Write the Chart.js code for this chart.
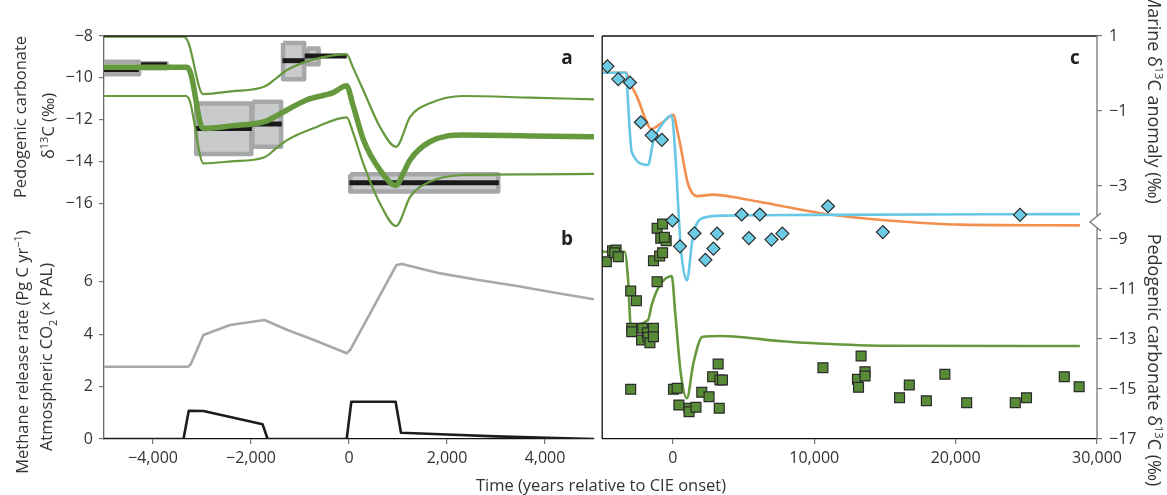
<!DOCTYPE html>
<html>
<head>
<meta charset="utf-8">
<script src="https://cdn.jsdelivr.net/npm/chart.js@4.4.1/dist/chart.umd.min.js"></script>
<style>
  body { margin: 0; background: #fff; }
  #wrap { position: relative; width: 1167px; height: 495px; overflow: hidden; background: #fff; font-family: "Open Sans", sans-serif; color: #333; }
  canvas { position: absolute; top: 0; }
  .t { position: absolute; white-space: nowrap; font-size: 16.5px; transform: translate(-50%, -50%); line-height: 1; }
  .up { transform: translate(-50%, -50%) rotate(-90deg); }
  .down { transform: translate(-50%, -50%) rotate(90deg); font-size: 18px; }
  .t sup, .t sub { font-size: 11px; }
  .lbl { position: absolute; font-weight: 700; font-size: 19px; color: #222; transform: translate(-50%, -50%); }
</style>
</head>
<body>
<div id="wrap">
  <canvas id="left" width="600" height="495" style="left:0"></canvas>
  <canvas id="right" width="573" height="495" style="left:594px"></canvas>

  <div class="t up" style="left:20px;top:117px">Pedogenic carbonate</div>
  <div class="t up" style="left:47px;top:126px">δ<sup>13</sup>C (‰)</div>
  <div class="t up" style="left:21px;top:352px">Methane release rate (Pg C yr<sup>−1</sup>)</div>
  <div class="t up" style="left:48px;top:357px">Atmospheric CO<sub>2</sub> (× PAL)</div>
  <div class="t down" style="left:1155px;top:98px">Marine δ<sup>13</sup>C anomaly (‰)</div>
  <div class="t down" style="left:1155px;top:360px">Pedogenic carbonate δ<sup>13</sup>C (‰)</div>
  <div class="t" style="left:601px;top:485px">Time (years relative to CIE onset)</div>

  <div class="lbl" style="left:567px;top:57px">a</div>
  <div class="lbl" style="left:567px;top:238px">b</div>
  <div class="lbl" style="left:1075px;top:57px">c</div>
</div>
<script>
// Tick labels
const leftTimeTicks = [-4000, -2000, 0, 2000, 4000];
const rightTimeTicks = [0, 10000, 20000, 30000];
const soilTicks = [-16, -14, -12, -10, -8];
const rateTicks = [0, 2, 4, 6];
const marineTicks = [1, -1, -3];
const soilTicksRight = [-9, -11, -13, -15, -17];

// Panel a: soil carbonate data boxes (time range, d13C range) and medians
const boxStart = [-5050, -4236, -3117, -1970, -1346, -854, 26];
const boxEnd   = [-4285, -3723, -1993, -1385, -915, -621, 3046];
const boxHigh  = [-9.23, -9.3, -11.23, -11.15, -8.34, -8.6, -14.61];
const boxLow   = [-9.83, -9.54, -13.65, -13.3, -10.07, -9.35, -15.44];
const barStart = [-5050, -4245, -3129, -1980, -1357, -904, 8];
const barEnd   = [-4290, -3714, -1982, -1373, -904, -47, 3057];
const barValue = [-9.6, -9.34, -12.42, -12.21, -9.18, -8.96, -15.02];

// Panel a: model curves
const midTime = [-5000, -3300, -3230, -2980, -2400, -1724, -1500, -1265, -865, -325, -50, 80, 300, 630, 960, 1100, 1245, 1650, 2330, 3700, 5000];
const midValue = [-9.5, -9.5, -9.8, -12.42, -12.3, -12.1, -11.85, -11.54, -11.06, -10.71, -10.38, -11.3, -13.0, -14.4, -15.15, -14.6, -13.93, -13.06, -12.74, -12.78, -12.82];
const hiTime = [-5000, -3370, -3280, -2980, -2400, -1724, -1500, -1265, -714, -47, 80, 290, 630, 960, 1250, 1650, 2330, 3700, 5000];
const hiValue = [-8.03, -8.03, -8.3, -10.78, -10.65, -10.42, -10.05, -9.63, -9.12, -8.88, -9.5, -10.58, -12.34, -13.3, -11.86, -11.22, -10.87, -10.95, -11.03];
const loTime = [-5000, -3335, -3250, -2970, -2400, -1724, -1500, -1265, -646, -47, 80, 290, 630, 960, 1250, 1650, 2330, 3700, 5000];
const loValue = [-10.87, -10.87, -11.1, -14.09, -14.0, -13.8, -13.4, -12.98, -12.34, -11.89, -12.6, -14.09, -16.0, -17.09, -15.69, -14.97, -14.65, -14.62, -14.6];

// Panel b: atmospheric CO2 and methane release
const co2Time = [-5000, -3286, -3230, -2971, -2429, -1724, -1255, -714, -47, 31, 967, 1080, 1865, 2645, 3429, 4204, 5000];
const co2Value = [2.76, 2.76, 2.85, 3.97, 4.35, 4.54, 4.16, 3.78, 3.27, 3.42, 6.64, 6.68, 6.32, 6.07, 5.84, 5.58, 5.33];
const ch4Time = [-5000, -3378, -3270, -2971, -1763, -1661, -47, 47, 951, 1061, 2000, 3000, 4049, 5000];
const ch4Value = [0, 0, 1.08, 1.07, 0.56, 0, 0, 1.42, 1.42, 0.24, 0.17, 0.1, 0.05, 0];

// Panel c: marine d13C model curves and data
const orangeTime = [-5000, -3300, -3100, -2524, -1900, -1548, -732, 42, 300, 558, 1067, 1710, 2866, 4916, 7482, 11074, 15181, 20314, 28787];
const orangeValue = [0.02, 0.02, -0.2, -0.63, -1.25, -1.48, -1.3, -1.1, -1.5, -1.97, -2.94, -3.27, -3.23, -3.34, -3.52, -3.76, -3.92, -4.03, -4.05];
const cyanTime = [-5000, -3300, -3166, -2908, -1757, -1374, -858, -84, 168, 558, 990, 1374, 1583, 2350, 3633, 10050, 28787];
const cyanValue = [0.02, 0.02, -0.81, -2.1, -2.44, -1.79, -1.41, -1.12, -2.14, -4.63, -5.52, -4.45, -4.1, -3.83, -3.79, -3.77, -3.75];
const dmTime = [-4630, -3863, -3040, -2266, -1500, -781, -35, 502, 1527, 2300, 2866, 3124, 4867, 5377, 6151, 6975, 7741, 10976, 14853, 24553];
const dmValue = [0.19, -0.15, -0.24, -1.3, -1.65, -1.77, -3.92, -4.61, -4.26, -4.97, -4.67, -4.27, -3.76, -4.39, -3.76, -4.43, -4.27, -3.54, -4.23, -3.77];

// Panel c: soil carbonate model and data
const soilTime = [-5000, -3424, -3166, -2985, -1757, -1500, -984, -84, 168, 558, 990, 1450, 2092, 3375, 4916, 7482, 10050, 15181, 28787];
const soilValue = [-9.51, -9.51, -10.64, -12.44, -12.24, -11.64, -10.91, -10.48, -11.97, -14.37, -15.37, -13.97, -12.91, -12.88, -12.93, -13.08, -13.17, -13.27, -13.28];
const sqTime = [-4707, -4268, -4017, -4115, -3863, -2985, -2580, -2908, -2908, -2141, -2218, -1806, -1757, -1625, -1374, -1374,
  -1374, -935, -732, -1116, -1116, -732, -858, -474, -600,
  -2985, 42, 300, 425, 1144, 1144, 1632, 2043, 2559, 2810, 3201, 3327, 3508, 3280,
  10614, 13313, 13054, 13131, 13592, 13592, 16033, 16723, 17929, 19240, 20782, 24219, 25014, 27685, 28738];
const sqValue = [-9.91, -9.47, -9.44, -9.55, -9.71, -11.08, -11.47, -12.57, -12.71, -12.57, -13.04, -12.75, -12.93, -13.15, -12.57, -12.91,
  -9.87, -9.68, -9.55, -10.71, -8.57, -8.4, -8.97, -9.07, -8.93,
  -15.01, -15.01, -14.97, -15.64, -15.77, -15.91, -15.73, -15.13, -15.31, -14.51, -14.0, -14.64, -14.64, -15.77,
  -14.15, -13.68, -14.61, -14.93, -14.31, -14.48, -15.35, -14.84, -15.47, -14.41, -15.55, -15.55, -15.35, -14.51, -14.91];

// where the right axis is broken (marine scale)
const axisBreak = -3.96;

Chart.defaults.font.family = '"Open Sans", sans-serif';
Chart.defaults.font.size = 16;
Chart.defaults.color = '#333';

const GREEN = '#66993d';
const fmt = v => (v < 0 ? '\u2212' : '') + Math.abs(v).toLocaleString('en-US');
const pts = (xs, ys) => xs.map((x, i) => ({ x, y: ys[i] }));
const setTicks = list => s => { s.ticks = list.map(v => ({ value: v })); };
const noPad = s => { s.paddingTop = 0; s.paddingBottom = 0; s.paddingLeft = 0; s.paddingRight = 0; };

function line(xs, ys, color, width, yAxisID, order, smooth) {
  return {
    type: 'line', data: pts(xs, ys), yAxisID, order,
    borderColor: color, borderWidth: width, pointRadius: 0, fill: false,
    cubicInterpolationMode: smooth ? 'monotone' : 'default', tension: 0,
    borderCapStyle: 'butt', borderJoinStyle: 'round'
  };
}

function frame(chart, opts) {
  const { ctx, chartArea: a } = chart;
  ctx.save();
  ctx.strokeStyle = '#111';
  ctx.lineWidth = 1.3;
  ctx.beginPath();
  ctx.moveTo(a.left, a.top);
  ctx.lineTo(a.right, a.top);
  if (opts.leftEdge) {
    ctx.moveTo(a.left, a.top);
    ctx.lineTo(a.left, a.bottom);
  }
  ctx.stroke();
  if (opts.breakAxis) {
    const x = a.right;
    const yb = chart.scales.ym.getPixelForValue(axisBreak);
    ctx.strokeStyle = '#777';
    ctx.lineWidth = 1.3;
    ctx.beginPath();
    ctx.moveTo(x, a.top);
    ctx.lineTo(x, yb - 6);
    ctx.moveTo(x + 4, yb - 9);
    ctx.lineTo(x - 7, yb);
    ctx.lineTo(x + 4, yb + 9);
    ctx.moveTo(x, yb + 6);
    ctx.lineTo(x, a.bottom);
    ctx.stroke();
  }
  ctx.restore();
}

// the inner (zero width) axis shares the label room of the outer one
const axisSpan = {
  id: 'axisSpan',
  afterLayout(chart) {
    const s = chart.scales;
    if (s.yb) s.yb.left = s.ya.left;
    if (s.yp) s.yp.right = s.ym.right;
  }
};
const framePlugin = { id: 'frame', afterDraw(chart, args, opts) { frame(chart, opts); } };

const tickGrid = { drawOnChartArea: false, tickLength: 5, color: '#777', lineWidth: 1.2 };

// ---------- left chart (panels a and b)
const leftSets = [];
boxStart.forEach((s, i) => {
  leftSets.push({
    type: 'line', yAxisID: 'ya', order: 30,
    data: [{ x: s, y: boxHigh[i] }, { x: boxEnd[i], y: boxHigh[i] }, { x: boxEnd[i], y: boxLow[i] }, { x: s, y: boxLow[i] }, { x: s, y: boxHigh[i] }],
    fill: 'shape', backgroundColor: '#c9cacc', borderColor: '#a6a7a9', borderWidth: 4.5,
    borderJoinStyle: 'round', pointRadius: 0, tension: 0
  });
});
barStart.forEach((s, i) => {
  leftSets.push({
    type: 'line', yAxisID: 'ya', order: 20,
    data: [{ x: s, y: barValue[i] }, { x: barEnd[i], y: barValue[i] }],
    borderColor: '#1a1a1a', borderWidth: i === 1 ? 3.5 : 5, pointRadius: 0, fill: false
  });
});
leftSets.push(line(hiTime, hiValue, GREEN, 2.2, 'ya', 5, true));
leftSets.push(line(loTime, loValue, GREEN, 2.2, 'ya', 5, true));
leftSets.push(line(midTime, midValue, GREEN, 5.5, 'ya', 4, true));
leftSets.push(line(co2Time, co2Value, '#a8a8a8', 2.6, 'yb', 6, false));
leftSets.push(line(ch4Time, ch4Value, '#1c1c1c', 2.6, 'yb', 6, false));

new Chart(document.getElementById('left'), {
  type: 'line',
  data: { datasets: leftSets },
  plugins: [axisSpan, framePlugin],
  options: {
    responsive: false, animation: false, events: [],
    layout: { padding: { left: 0, top: 36, right: 6, bottom: 26 } },
    plugins: { legend: { display: false }, tooltip: { enabled: false }, frame: { leftEdge: false } },
    scales: {
      x: {
        type: 'linear', min: -5000, max: 5000,
        afterBuildTicks: setTicks(leftTimeTicks),
        afterFit: s => { s.height = 30; noPad(s); },
        ticks: { callback: fmt, padding: 5, maxRotation: 0, autoSkip: false },
        grid: tickGrid, border: { color: '#111', width: 1.3 }
      },
      ya: {
        type: 'linear', position: 'left', weight: 1, min: -27.28, max: -8,
        afterBuildTicks: setTicks(soilTicks),
        afterFit: s => { s.width = 104; noPad(s); },
        ticks: { callback: fmt, padding: 6 },
        grid: tickGrid, border: { color: '#666', width: 1.3 }
      },
      yb: {
        type: 'linear', position: 'left', weight: 0, min: 0, max: 15.38,
        afterBuildTicks: setTicks(rateTicks),
        afterFit: s => { s.width = 0; noPad(s); },
        ticks: { callback: fmt, padding: 6 },
        grid: tickGrid, border: { display: false }
      }
    }
  }
});

// ---------- right chart (panel c)
const rightSets = [
  line(orangeTime, orangeValue, '#f28f4e', 2.6, 'ym', 5, true),
  line(cyanTime, cyanValue, '#66c8e4', 2.6, 'ym', 4, true),
  line(soilTime, soilValue, GREEN, 2.6, 'yp', 6, true),
  {
    type: 'scatter', yAxisID: 'yp', order: 2, data: pts(sqTime, sqValue),
    pointStyle: 'rect', pointRadius: 7, backgroundColor: '#588b36', borderColor: '#2b2b2b', borderWidth: 1.2
  },
  {
    type: 'scatter', yAxisID: 'ym', order: 1, data: pts(dmTime, dmValue),
    pointStyle: 'rectRot', pointRadius: 6.5, backgroundColor: '#6dcbe5', borderColor: '#2b2b2b', borderWidth: 1.2
  }
];

new Chart(document.getElementById('right'), {
  type: 'line',
  data: { datasets: rightSets },
  plugins: [axisSpan, framePlugin],
  options: {
    responsive: false, animation: false, events: [],
    layout: { padding: { left: 1, top: 36, right: 0, bottom: 26 } },
    plugins: { legend: { display: false }, tooltip: { enabled: false }, frame: { leftEdge: true, breakAxis: true } },
    scales: {
      x: {
        type: 'linear', min: -5000, max: 30000,
        afterBuildTicks: setTicks(rightTimeTicks),
        afterFit: s => { s.height = 30; noPad(s); },
        ticks: { callback: fmt, padding: 5, maxRotation: 0, autoSkip: false },
        grid: tickGrid, border: { color: '#111', width: 1.3 }
      },
      ym: {
        type: 'linear', position: 'right', weight: 1, min: -9.747, max: 1,
        afterBuildTicks: setTicks(marineTicks),
        afterFit: s => { s.width = 70; noPad(s); },
        ticks: { callback: fmt, padding: 7 },
        grid: tickGrid, border: { display: false }
      },
      yp: {
        type: 'linear', position: 'right', weight: 0, min: -17, max: -0.88,
        afterBuildTicks: setTicks(soilTicksRight),
        afterFit: s => { s.width = 0; noPad(s); },
        ticks: { callback: fmt, padding: 7 },
        grid: tickGrid, border: { display: false }
      }
    }
  }
});
</script>
</body>
</html>
